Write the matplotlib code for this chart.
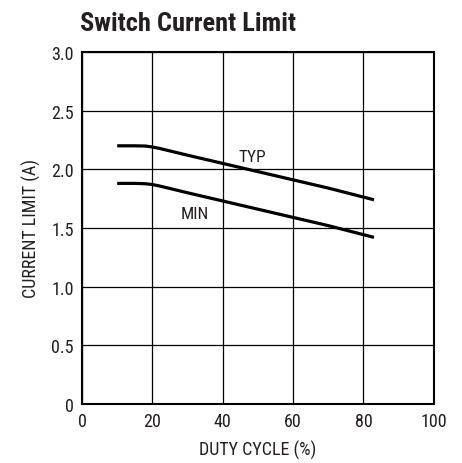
import matplotlib
matplotlib.use('Agg')
from matplotlib import pyplot as plt

plt.rcParams['font.family'] = ['Roboto Condensed', 'DejaVu Sans']

duty = [10, 15, 18, 20, 22, 30, 40, 50, 60, 70, 83]
typ = [2.20, 2.20, 2.198, 2.19, 2.178, 2.12, 2.05, 1.98, 1.91, 1.84, 1.74]
mn = [1.88, 1.88, 1.877, 1.87, 1.858, 1.80, 1.73, 1.66, 1.59, 1.52, 1.42]

xticks = [0, 20, 40, 60, 80, 100]
yticks = [0, 0.5, 1.0, 1.5, 2.0, 2.5, 3.0]
ylabels = ['0', '0.5', '1.0', '1.5', '2.0', '2.5', '3.0']

fig = plt.figure(figsize=(4.62, 4.64), dpi=100)
ax = fig.add_axes([0.1775, 0.127, 0.7615, 0.759])

ax.plot(duty, typ, color='black', lw=2.3, solid_capstyle='butt')
ax.plot(duty, mn, color='black', lw=2.3, solid_capstyle='butt')

ax.text(48.5, 2.11, 'TYP', fontsize=12.5, ha='center', va='center', color='#231f20')
ax.text(32, 1.62, 'MIN', fontsize=12.5, ha='center', va='center', color='#231f20')

ax.set_xlim(0, 100)
ax.set_ylim(0, 3.0)
ax.set_xticks(xticks)
ax.set_yticks(yticks)
ax.set_yticklabels(ylabels)
ax.tick_params(length=0, labelsize=13, pad=6, labelcolor='#231f20')
ax.grid(True, color='black', lw=0.9)
for s in ax.spines.values():
    s.set_linewidth(1.5)

ax.set_xlabel('DUTY CYCLE (%)', fontsize=13, labelpad=7, color='#231f20')
ax.set_ylabel('CURRENT LIMIT (A)', fontsize=13, labelpad=7, color='#231f20')

fig.text(80 / 462, 1 - 31 / 464, 'Switch Current Limit', fontsize=19,
         fontweight='bold', ha='left', va='baseline', color='#231f20')

fig.savefig('out.png', dpi=100)
